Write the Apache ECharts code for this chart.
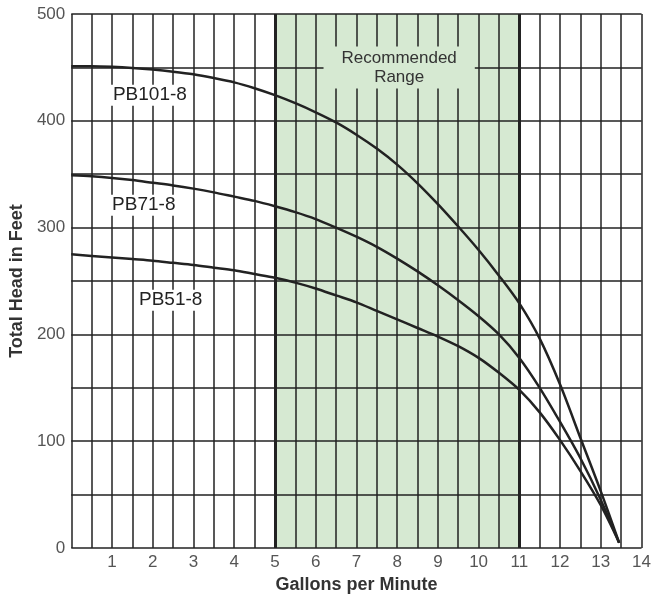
<!DOCTYPE html>
<html>
<head>
<meta charset="utf-8">
<title>Pump performance</title>
<script src="https://cdn.jsdelivr.net/npm/echarts@6/dist/echarts.min.js"></script>
<style>
html,body{margin:0;padding:0;background:#fff;}
#main{width:654px;height:599px;}
</style>
</head>
<body>
<div id="main"></div>
<script>
// flow (gpm) and head (feet)
var gpm   = [0,0.5,1,1.5,2,2.5,3,3.5,4,4.5,5,5.5,6,6.5,7,7.5,8,8.5,9,9.5,10,10.5,11,11.5,12,12.5,13,13.45];
var pb101 = [451,451,450.5,449.5,448,446,443.5,440,436,430.5,424,416.5,408,398.5,387,374,359,341.5,322,301,279,255,229,196,153,103,53,5];
var pb71  = [349,348,346.5,344.5,342,339.5,336.5,333,329,325,320,314.5,308,300,291.5,282,271,259,246,232,217,200,178,150,118,84,45,5];
var pb51  = [275,273.5,272,270.5,269,267,265,262.5,260,256.5,253,248.5,243,236.5,230,222,214,206,198,189,178,164,148,127,101,72,40,5];

var names   = ['PB101-8','PB71-8','PB51-8'];
var labelAt = [[1.93,424],[1.78,321],[2.44,232]];

var xMax = 14, yMax = 500;
var rangeLo = 5, rangeHi = 11;   // recommended range

var ink = '#222';
var green = '#d6e9d2';

var pairs = function(ys){
    return gpm.map(function(x,i){ return [x, ys[i]]; });
};

// green band between 5 and 11 via splitArea colours
var bands = [];
for(var i=0;i<xMax;i++){
    bands.push(i>=rangeLo && i<rangeHi ? green : '#fff');
}

var gridLine = {show:true, lineStyle:{color:ink, width:1.5}};

var mkSeries = function(idx, ys){
    return {
        name: names[idx],
        type: 'line',
        data: pairs(ys),
        smooth: 0.3,
        showSymbol: false,
        lineStyle: {color: ink, width: 2.5},
        markPoint: {
            silent: true,
            symbol: 'circle',
            symbolSize: 1,
            itemStyle: {color: 'rgba(0,0,0,0)'},
            data: [{
                coord: labelAt[idx],
                label: {
                    show: true, position: 'inside',
                    formatter: names[idx],
                    color: ink, fontSize: 19,
                    fontFamily: 'Liberation Sans',
                    backgroundColor: '#fff',
                    padding: [1, 2]
                }
            }]
        }
    };
};

var series = [mkSeries(0,pb101), mkSeries(1,pb71), mkSeries(2,pb51)];

// thick borders of the range + its caption
series[0].markLine = {
    silent: true,
    symbol: 'none',
    label: {show:false},
    lineStyle: {color: ink, width: 3, type: 'solid'},
    data: [{xAxis: rangeLo}, {xAxis: rangeHi}]
};
series[1].markPoint.data.push({
    coord: [8.05, 450],
    label: {
        show: true, position: 'inside',
        formatter: 'Recommended\nRange',
        color: '#333', fontSize: 17, lineHeight: 19,
        fontFamily: 'Liberation Sans',
        backgroundColor: green,
        padding: [2, 18]
    }
});

var myChart = echarts.init(document.getElementById('main'));

var option = {
    animation: false,
    grid: {left: 69, right: 6, top: 14, bottom: 51},
    xAxis: {
        type: 'value',
        min: 0, max: xMax, interval: 1,
        name: 'Gallons per Minute',
        nameLocation: 'middle',
        nameGap: 27,
        nameTextStyle: {fontFamily:'Liberation Sans', fontWeight:'bold', fontSize:18, color:'#333'},
        axisLine: {show:false},
        axisTick: {show:false},
        axisLabel: {
            margin: 6, fontSize: 17, color: '#555', fontFamily: 'Liberation Sans',
            formatter: function(v){ return v === 0 ? '' : v; }
        },
        splitLine: gridLine,
        minorTick: {show:false, splitNumber: 2},
        minorSplitLine: gridLine,
        splitArea: {show:true, areaStyle:{color: bands, opacity: 1}}
    },
    yAxis: {
        type: 'value',
        z: 1,
        min: 0, max: yMax, interval: 100,
        name: 'Total Head in Feet',
        nameLocation: 'middle',
        nameGap: 45,
        nameTextStyle: {fontFamily:'Liberation Sans', fontWeight:'bold', fontSize:18, color:'#333'},
        axisLine: {show:false},
        axisTick: {show:false},
        axisLabel: {margin: 6, fontSize: 17, color: '#555', fontFamily: 'Liberation Sans'},
        splitLine: gridLine,
        minorTick: {show:false, splitNumber: 2},
        minorSplitLine: gridLine
    },
    series: series
};

myChart.setOption(option);
</script>
</body>
</html>
